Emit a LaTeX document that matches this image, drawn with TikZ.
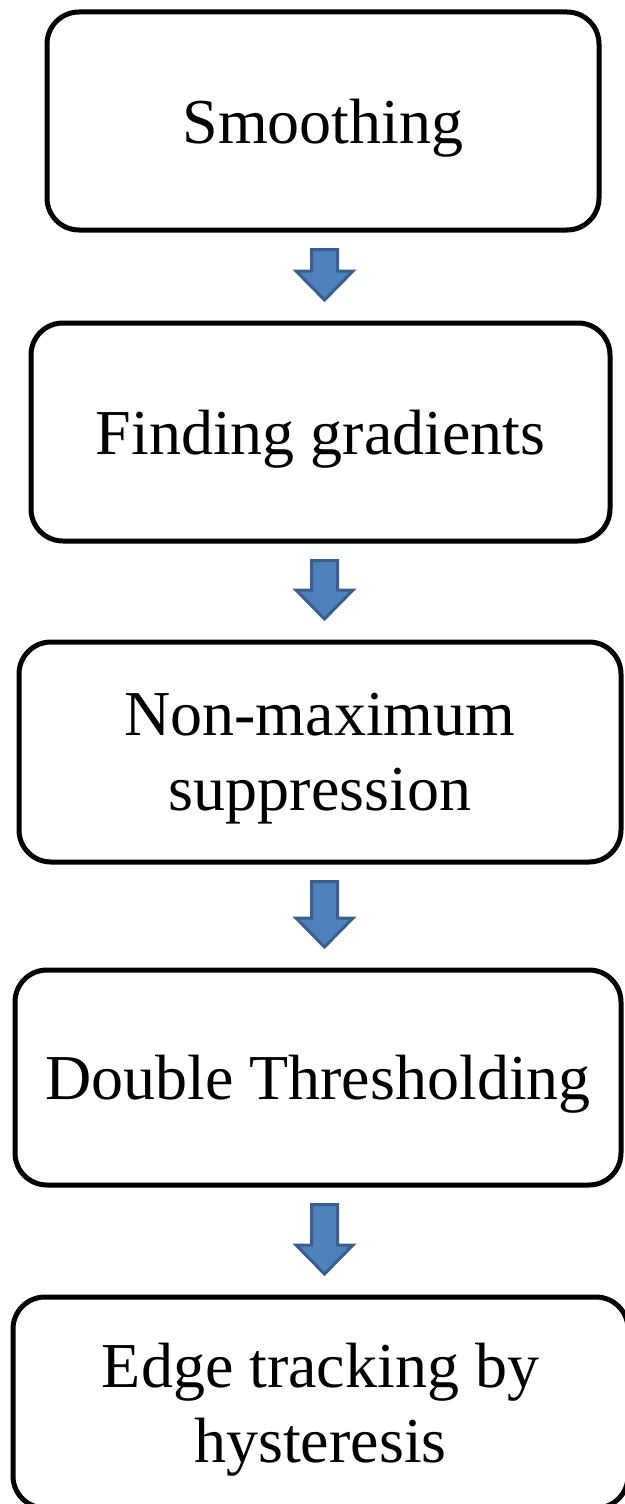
\documentclass[tikz,border=0pt]{standalone}
\usepackage{fontspec}
\setmainfont{Liberation Serif}
\usetikzlibrary{calc}
\definecolor{arrowfill}{HTML}{4F81BD}
\definecolor{arrowline}{HTML}{3A5F8E}

\begin{document}
\begin{tikzpicture}[
    stepbox/.style={draw, line width=5pt, rounded corners=32pt, align=center,
        inner sep=0pt, outer sep=0pt, text depth=0pt,
        font=\fontsize{64}{75}\selectfont},
    flowarrow/.style={draw=arrowline, fill=arrowfill, line width=3pt, line join=miter}
    ]
    \useasboundingbox (0,0) rectangle (624pt,-1504pt);
    % the five steps
    \node [stepbox, minimum width=552pt, minimum height=218pt] (smooth) at (323pt,-121pt) {Smoothing};
    \node [stepbox, minimum width=579pt, minimum height=218pt] (grad) at (320.5pt,-432pt) {Finding gradients};
    \node [stepbox, minimum width=602pt, minimum height=220pt] (nms) at (320pt,-752pt) {Non-maximum\\suppression};
    \node [stepbox, minimum width=606pt, minimum height=215pt] (thresh) at (318pt,-1077.5pt) {Double Thresholding};
    \node [stepbox, minimum width=615pt, minimum height=211pt] (track) at (320.5pt,-1402.5pt) {Edge tracking by\\hysteresis};
    % block arrows between the steps
    \coordinate (ax) at (324.5pt,0);
    \foreach \a/\b in {smooth/grad,grad/nms,nms/thresh,thresh/track}{
        \draw [flowarrow] ($(\a.south -| ax)+(-13pt,-19.5pt)$) -- ($(\a.south -| ax)+(13pt,-19.5pt)$)
            -- ($(\b.north -| ax)+(13pt,52pt)$) -- ($(\b.north -| ax)+(28.5pt,52pt)$)
            -- ($(\b.north -| ax)+(0,23pt)$) -- ($(\b.north -| ax)+(-28.5pt,52pt)$)
            -- ($(\b.north -| ax)+(-13pt,52pt)$) -- cycle;
    }
\end{tikzpicture}
\end{document}
